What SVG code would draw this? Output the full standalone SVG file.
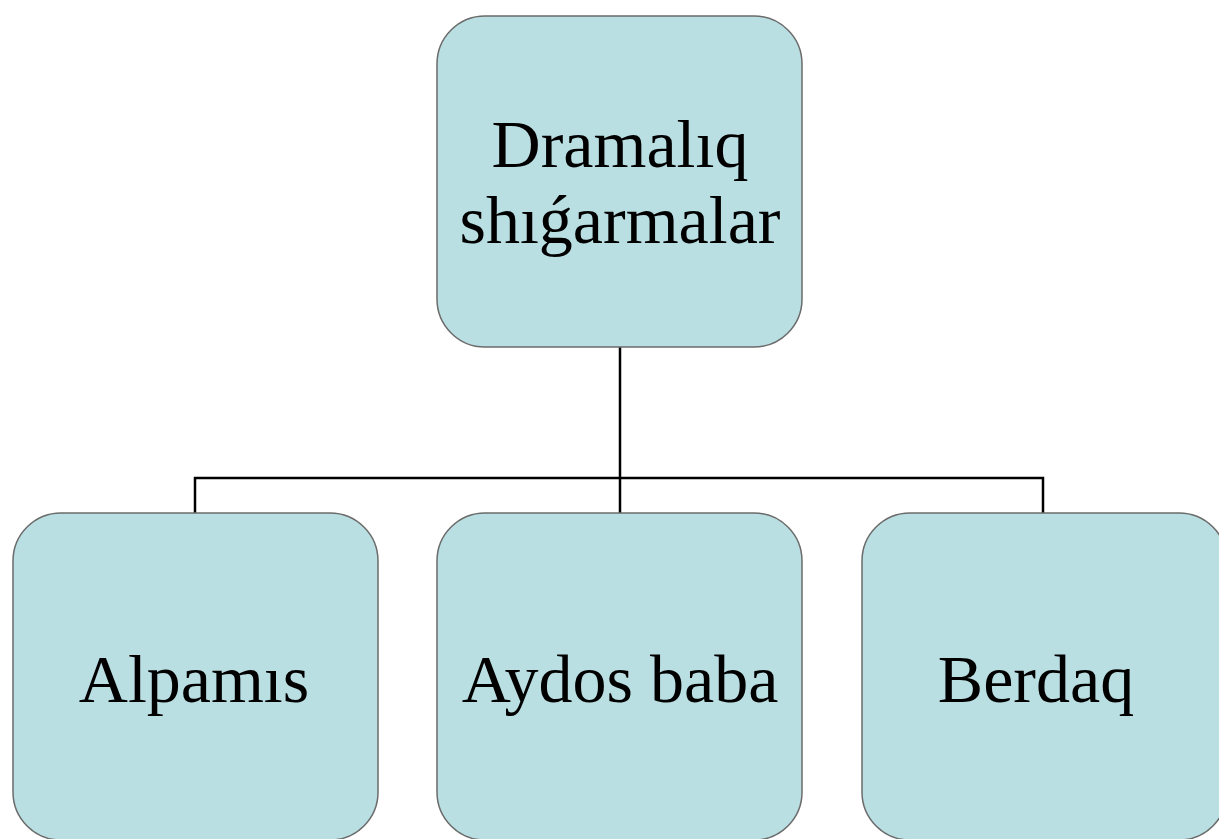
<svg xmlns="http://www.w3.org/2000/svg" width="1219" height="839" viewBox="0 0 1219 839">
<style>
.node{fill:#b9dfe3;stroke:#6b6b6b;stroke-width:1.5}
.lbl{font-family:"Liberation Serif","Times New Roman",serif;font-size:68px;fill:#000;text-anchor:middle}
.conn{fill:none;stroke:#000;stroke-width:2.5}
</style>
<rect width="1219" height="839" fill="#fff"/>
<g id="connectors">
<path class="conn" d="M620,347 V478 M195,513 V478 H1043 V513 M620,478 V513"/>
</g>
<g id="node-root">
<rect class="node" x="437" y="16" width="365" height="331" rx="48"/>
<text class="lbl" x="620" y="167">Dramalıq</text>
<text class="lbl" x="620" y="243">shıǵarmalar</text>
</g>
<g id="node-alpamis">
<rect class="node" x="13" y="513" width="365" height="327" rx="48"/>
<text class="lbl" x="194" y="702">Alpamıs</text>
</g>
<g id="node-aydos">
<rect class="node" x="437" y="513" width="365" height="327" rx="48"/>
<text class="lbl" x="620" y="702">Aydos baba</text>
</g>
<g id="node-berdaq">
<rect class="node" x="862" y="513" width="365" height="327" rx="48"/>
<text class="lbl" x="1036" y="702">Berdaq</text>
</g>
</svg>
